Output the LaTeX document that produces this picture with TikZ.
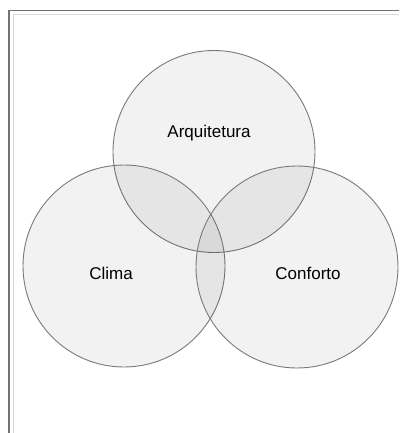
\documentclass[tikz,border=0pt]{standalone}
\usepackage{fontspec}
\setmainfont{Liberation Sans}
\begin{document}
\begin{tikzpicture}[x=1pt,y=-1pt,
  setcircle/.style={circle,draw=black!52,line width=0.9pt,fill=black,fill opacity=0.05,draw opacity=1,minimum size=202pt,inner sep=0pt},
  setlabel/.style={font=\fontsize{17}{20}\selectfont,text=black,inner sep=0pt}]
  % canvas
  \fill[white] (0,0) rectangle (399,433);
  \useasboundingbox (0,0) rectangle (399,433);
  % frame: dark outer edge and light inner edge
  \draw[black!55,line width=1.6pt] (9,433) -- (9,10.5) -- (399,10.5);
  \draw[black!15,line width=1pt] (13.5,433) -- (13.5,14.5) -- (399,14.5);
  % the three sets
  \node[setcircle] (arq) at (214,151.5) {};
  \node[setcircle] (cli) at (124,266) {};
  \node[setcircle] (con) at (297,267) {};
  % labels
  \node[setlabel] (arqtext) at (209,133) {Arquitetura};
  \node[setlabel] (clitext) at (111,273) {Clima};
  \node[setlabel] (context) at (308,273) {Conforto};
\end{tikzpicture}
\end{document}
